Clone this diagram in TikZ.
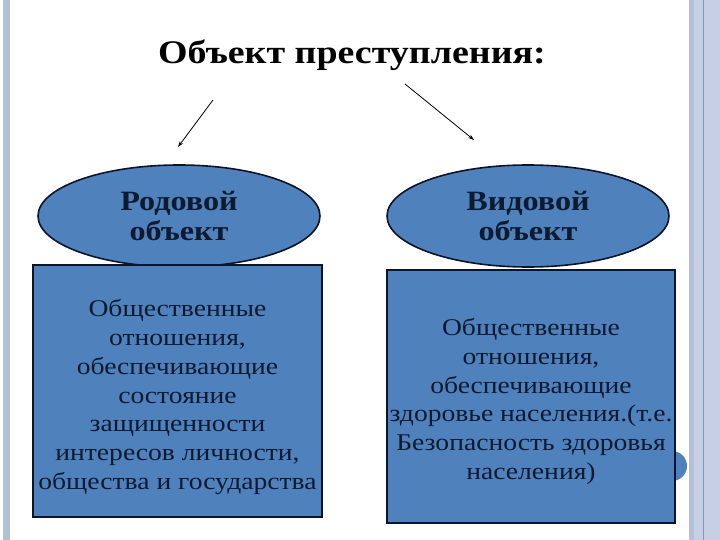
\documentclass[tikz,border=0pt]{standalone}
\usepackage{fontspec}
\setmainfont[FakeStretch=1.15]{Liberation Serif}
\usetikzlibrary{shapes.geometric,arrows.meta}
\definecolor{slideblue}{HTML}{4F81BD}
\definecolor{inkblue}{HTML}{0E1A30}
\definecolor{rimblue}{HTML}{0B1428}
\definecolor{stripegray}{HTML}{B4C0D8}
\definecolor{stripelight}{HTML}{C6CFE4}
\definecolor{stripeline}{HTML}{8196CA}
\tikzset{
  objoval/.style={ellipse,draw=rimblue,line width=1.6pt,fill=slideblue,
    minimum width=282pt,minimum height=102pt,inner sep=0pt,align=center,
    text=inkblue,font=\fontsize{28}{30}\selectfont\bfseries},
  objbox/.style={rectangle,draw=rimblue,line width=1.6pt,fill=slideblue,
    inner sep=0pt},
  boxtext/.style={align=center,text=inkblue,inner sep=0pt,
    font=\fontsize{24}{28.7}\selectfont},
  pointer/.style={-{Stealth[length=6pt,width=4pt]},line width=0.8pt}
}
\begin{document}
\begin{tikzpicture}[x=1pt,y=-1pt]
  \useasboundingbox (0,0) rectangle (720,540);
  % side stripes
  \fill[stripegray] (3,0) rectangle (10,540);
  \fill[stripelight] (689,0) rectangle (720,540);
  \fill[stripegray] (689,0) rectangle (694,540);
  \draw[stripeline,line width=0.8pt] (703,0) -- (703,540);
  % title and pointers
  \node[font=\fontsize{33}{38}\selectfont\bfseries] (title) at (352,55) {Объект преступления:};
  \coordinate (lfrom) at (213,100);
  \coordinate (lto) at (178,147);
  \coordinate (rfrom) at (405,84);
  \coordinate (rto) at (474,140);
  \draw[pointer] (lfrom) -- (lto);
  \draw[pointer] (rfrom) -- (rto);
  % ovals
  \node[objoval] (genus) at (179,216) {Родовой\\объект};
  \node[objoval] (species) at (528,216) {Видовой\\объект};
  % circle behind the right box
  \fill[slideblue] (672,466) circle (15pt);
  % boxes
  \node[objbox,minimum width=289pt,minimum height=252pt] (genusbox) at (177.5,391) {};
  \node[boxtext] (genustext) at ([yshift=-6pt]genusbox.center)
    {Общественные\\отношения,\\обеспечивающие\\состояние\\защищенности\\интересов личности,\\общества и государства};
  \node[objbox,minimum width=288pt,minimum height=253pt] (speciesbox) at (531,396.5) {};
  \node[boxtext] (speciestext) at ([yshift=-5pt]speciesbox.center)
    {Общественные\\отношения,\\обеспечивающие\\здоровье населения.(т.е.\\Безопасность здоровья\\населения)};
\end{tikzpicture}
\end{document}
